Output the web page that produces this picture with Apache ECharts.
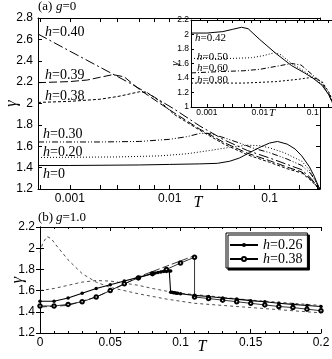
<!DOCTYPE html>
<html>
<head>
<meta charset="utf-8">
<title>gamma vs T</title>
<script src="https://cdn.jsdelivr.net/npm/echarts@6/dist/echarts.min.js"></script>
<style>
html, body { margin: 0; padding: 0; background: #fff; }
#main { width: 332px; height: 359px; }
</style>
</head>
<body>
<div id="main"></div>
<script>
// ---- panel (a): g = 0, gamma vs T (log) ----
var a_h0  = [[0.00048,1.42],[0.001,1.42],[0.005,1.425],[0.01,1.43],[0.02,1.435],[0.03,1.44],[0.04,1.46],[0.05,1.49],[0.063,1.54],[0.08,1.59],[0.1,1.63],[0.12,1.645],[0.15,1.62],[0.18,1.575],[0.21,1.51],[0.25,1.41],[0.28,1.32],[0.32,1.19]];
var a_h20 = [[0.00048,1.495],[0.003,1.50],[0.008,1.51],[0.015,1.53],[0.025,1.56],[0.04,1.59],[0.06,1.61],[0.08,1.605],[0.1,1.585],[0.14,1.54],[0.18,1.49],[0.21,1.46],[0.25,1.38],[0.28,1.30],[0.32,1.19]];
var a_h30 = [[0.00048,1.64],[0.002,1.64],[0.005,1.645],[0.01,1.665],[0.015,1.69],[0.02,1.72],[0.025,1.72],[0.035,1.68],[0.05,1.63],[0.07,1.58],[0.1,1.54],[0.15,1.48],[0.21,1.42],[0.26,1.34],[0.32,1.2]];
var a_h38 = [[0.00048,2.01],[0.001,2.02],[0.002,2.04],[0.003,2.065],[0.004,2.09],[0.005,2.11],[0.006,2.10],[0.008,2.02],[0.011,1.90],[0.02,1.75],[0.035,1.62],[0.06,1.52],[0.1,1.45],[0.15,1.39],[0.21,1.35],[0.26,1.28],[0.32,1.19]];
var a_h39 = [[0.00048,2.195],[0.001,2.205],[0.0015,2.22],[0.002,2.245],[0.0027,2.27],[0.0035,2.25],[0.005,2.13],[0.008,2.0],[0.011,1.915],[0.02,1.76],[0.035,1.635],[0.06,1.535],[0.1,1.465],[0.15,1.405],[0.21,1.36],[0.26,1.29],[0.32,1.19]];
var a_h40 = [[0.00048,2.65],[0.001,2.49],[0.002,2.34],[0.004,2.19],[0.007,2.06],[0.011,1.95],[0.02,1.79],[0.035,1.66],[0.06,1.56],[0.1,1.49],[0.15,1.43],[0.21,1.38],[0.26,1.30],[0.32,1.19]];

// ---- inset of (a): larger h ----
var i_h42 = [[0.0005,2.02],[0.001,2.02],[0.002,2.04],[0.003,2.07],[0.0045,2.10],[0.006,2.08],[0.01,1.93],[0.02,1.74],[0.04,1.57],[0.07,1.47],[0.1,1.40],[0.15,1.30],[0.2,1.17],[0.25,1.02],[0.3,0.9]];
var i_h50 = [[0.0005,1.67],[0.003,1.67],[0.007,1.68],[0.012,1.71],[0.019,1.75],[0.025,1.72],[0.04,1.60],[0.07,1.49],[0.1,1.41],[0.15,1.31],[0.2,1.17],[0.25,1.02],[0.3,0.9]];
var i_h60 = [[0.0005,1.47],[0.002,1.49],[0.005,1.50],[0.01,1.52],[0.02,1.56],[0.04,1.60],[0.06,1.58],[0.1,1.44],[0.15,1.33],[0.2,1.19],[0.25,1.04],[0.3,0.9]];
var i_h80 = [[0.0005,1.33],[0.005,1.33],[0.02,1.35],[0.05,1.38],[0.1,1.41],[0.15,1.35],[0.2,1.21],[0.25,1.05],[0.3,0.9]];

// ---- panel (b): g = 1.0, gamma vs T (linear) ----
var b_h26 = [[0,1.50],[0.01,1.50],[0.02,1.53],[0.03,1.575],[0.04,1.62],[0.05,1.655],[0.06,1.69],[0.07,1.725],[0.08,1.76],[0.082,1.765],[0.084,1.77],[0.086,1.775],[0.088,1.78],[0.09,1.78],[0.092,1.785],[0.093,1.785],[0.093,1.585],[0.094,1.585],[0.095,1.58],[0.096,1.58],[0.097,1.575],[0.098,1.575],[0.1,1.57],[0.11,1.555],[0.12,1.545],[0.13,1.53],[0.14,1.52],[0.15,1.505],[0.16,1.495],[0.17,1.48],[0.18,1.47],[0.19,1.46],[0.2,1.45]];
var b_h38 = [[0,1.455],[0.01,1.455],[0.02,1.47],[0.03,1.495],[0.04,1.54],[0.05,1.60],[0.06,1.665],[0.07,1.72],[0.08,1.76],[0.09,1.80],[0.1,1.86],[0.11,1.915],[0.11,1.54],[0.12,1.525],[0.13,1.51],[0.14,1.495],[0.15,1.48],[0.16,1.465],[0.17,1.45],[0.18,1.44],[0.19,1.425],[0.2,1.41]];
var b_d1 = [[0,1.96],[0.002,2.05],[0.005,2.11],[0.008,2.09],[0.012,2.02],[0.02,1.89],[0.03,1.76],[0.04,1.68],[0.05,1.63],[0.07,1.57],[0.09,1.52],[0.11,1.48],[0.15,1.44],[0.2,1.39]];
var b_d2 = [[0,1.60],[0.01,1.62],[0.02,1.65],[0.03,1.68],[0.04,1.695],[0.05,1.69],[0.06,1.67],[0.07,1.65],[0.08,1.62],[0.09,1.595],[0.1,1.575],[0.12,1.55],[0.15,1.51],[0.2,1.46]];
var b_d3 = [[0,1.445],[0.02,1.46],[0.04,1.54],[0.05,1.60],[0.06,1.66],[0.07,1.73],[0.08,1.78],[0.09,1.83],[0.1,1.88],[0.11,1.93]];

// tick positions
var logLabels = [0.001, 0.01, 0.1];
var logTicks = [0.0005, 0.001, 0.002, 0.003, 0.005, 0.007, 0.01, 0.02, 0.03, 0.05, 0.07, 0.1, 0.2, 0.3];

var serif = '"Liberation Serif", "DejaVu Serif", serif';
var sans = '"Liberation Sans", Arial, sans-serif';
var black = '#000';

function xLog(grid, pos, min, max, fs, margin, z) {
  return {
    type: 'log', logBase: 10, gridIndex: grid, position: pos, min: min, max: max, z: z || 0,
    axisLine: { show: true, lineStyle: { color: black, width: 1 } },
    axisTick: { show: true, inside: true, length: 4, customValues: logTicks, lineStyle: { color: black } },
    axisLabel: { show: pos === 'bottom', customValues: logLabels, margin: margin, fontSize: fs,
      fontFamily: sans, color: black, formatter: function (v) { return String(+(+v).toPrecision(2)); } },
    splitLine: { show: false }
  };
}
function yLin(grid, pos, min, max, fs, margin, z) {
  return {
    type: 'value', gridIndex: grid, position: pos, min: min, max: max, interval: 0.2, z: z || 0,
    axisLine: { show: true, lineStyle: { color: black, width: 1 } },
    axisTick: { show: true, inside: true, length: 4, lineStyle: { color: black } },
    axisLabel: { show: pos === 'left', margin: margin, fontSize: fs, fontFamily: sans, color: black },
    splitLine: { show: false }
  };
}
function gammaName(ax, gap, fs) {
  ax.name = 'γ';
  ax.nameLocation = 'middle';
  ax.nameGap = gap;
  ax.nameRotate = 90;
  ax.nameMoveOverlap = false;
  ax.nameTextStyle = { fontFamily: serif, fontStyle: 'italic', fontSize: fs, color: black };
  return ax;
}
function tName(ax, gap, fs, shift) {
  ax.name = 'T';
  ax.nameLocation = 'middle';
  ax.nameGap = gap;
  ax.nameMoveOverlap = false;
  ax.nameTextStyle = { fontFamily: serif, fontStyle: 'italic', fontSize: fs, color: black, padding: [0, 0, 0, shift] };
  return ax;
}
function curve(data, xi, yi, dash, width, z, color) {
  return {
    type: 'line', xAxisIndex: xi, yAxisIndex: yi, data: data, symbol: 'none',
    lineStyle: { color: color || black, width: width, type: dash }, z: z || 2, silent: true
  };
}
function label(x, y, prefix, rest, fs) {
  return {
    type: 'text', x: x, y: y, z: 100, silent: true,
    style: {
      text: '{i|' + prefix + '}{n|' + rest + '}', align: 'left', verticalAlign: 'middle',
      rich: {
        i: { fontFamily: serif, fontStyle: 'italic', fontSize: fs, fill: black },
        n: { fontFamily: serif, fontSize: fs, fill: black }
      }
    }
  };
}

var xA = [
  tName(xLog(0, 'bottom', 0.00048, 0.32, 12, 4), 6, 16, 38),
  xLog(0, 'top', 0.00048, 0.32, 12, 4),
  tName({
    type: 'value', gridIndex: 1, position: 'bottom', min: 0, max: 0.2, interval: 0.05,
    axisLine: { show: true, lineStyle: { color: black } },
    axisTick: { show: true, inside: true, length: 4, lineStyle: { color: black } },
    minorTick: { show: true, splitNumber: 5, length: 2, lineStyle: { color: black } },
    axisLabel: { margin: 4, fontSize: 12, fontFamily: sans, color: black },
    splitLine: { show: false }
  }, 6, 16, 43),
  {
    type: 'value', gridIndex: 1, position: 'top', min: 0, max: 0.2, interval: 0.05,
    axisLine: { show: true, lineStyle: { color: black } },
    axisTick: { show: true, inside: true, length: 4, lineStyle: { color: black } },
    minorTick: { show: true, splitNumber: 5, length: 2, lineStyle: { color: black } },
    axisLabel: { show: false }, splitLine: { show: false }
  },
  tName(xLog(2, 'bottom', 0.0005, 0.3, 8.5, 1, 12), 1, 11, 15),
  xLog(2, 'top', 0.0005, 0.3, 8.5, 1, 12)
];
xA[4].axisTick.length = 3;
xA[5].axisTick.length = 3;

var yA = [
  gammaName(yLin(0, 'left', 1.2, 2.8, 12, 5), 18, 16),
  yLin(0, 'right', 1.2, 2.8, 12, 5),
  gammaName(yLin(1, 'left', 1.2, 2.2, 12, 5), 14, 16),
  yLin(1, 'right', 1.2, 2.2, 12, 5),
  gammaName(yLin(2, 'left', 1, 2.2, 8.5, 2, 12), 10, 11),
  yLin(2, 'right', 1, 2.2, 8.5, 2, 12)
];
yA[4].axisTick.length = 3;
yA[5].axisTick.length = 3;

var chart = echarts.init(document.getElementById('main'));
chart.setOption({
  animation: false,
  backgroundColor: '#fff',
  grid: [
    { left: 38, top: 18, width: 282, height: 171, outerBoundsMode: 'none' },
    { left: 40, top: 227, width: 281, height: 106, outerBoundsMode: 'none' },
    { left: 191, top: 20, width: 147, height: 87, show: true, backgroundColor: '#fff', borderWidth: 0, z: 10, outerBoundsMode: 'none' }
  ],
  xAxis: xA,
  yAxis: yA,
  legend: {
    data: ['h=0.26', 'h=0.38'], left: 226, top: 233, orient: 'vertical',
    itemWidth: 28, itemHeight: 5, itemGap: 0, padding: [5, 5, 2, 3],
    backgroundColor: '#fff', borderColor: black, borderWidth: 1, borderRadius: 0,
    shadowColor: black, shadowBlur: 0, shadowOffsetX: 2, shadowOffsetY: 2,
    textStyle: { fontFamily: serif, fontSize: 14, lineHeight: 13, color: black, rich: { i: { fontStyle: 'italic' } } },
    formatter: function (name) { return name.replace('h', '{i|h}'); }
  },
  graphic: [
    label(38, 7, '', '(a) ', 13), label(56, 7, 'g', '=0', 13),
    label(38, 218, '', '(b) ', 13), label(56, 218, 'g', '=1.0', 13),
    label(45, 32, 'h', '=0.40', 14),
    label(45, 75, 'h', '=0.39', 14),
    label(45, 96, 'h', '=0.38', 14),
    label(43, 134, 'h', '=0.30', 14),
    label(43, 152, 'h', '=0.20', 14),
    label(43, 174, 'h', '=0', 14),
    label(195, 38, 'h', '=0.42', 11),
    label(197, 57, 'h', '=0.50', 11),
    label(197, 68, 'h', '=0.60', 11),
    label(197, 80, 'h', '=0.80', 11)
  ],
  series: [
    curve(a_h0, 0, 0, 'solid', 1),
    curve(a_h20, 0, 0, [1, 2], 1),
    curve(a_h30, 0, 0, [6, 2, 1, 2, 1, 2], 1),
    curve(a_h38, 0, 0, [3, 2], 1),
    curve(a_h39, 0, 0, [8, 3], 1),
    curve(a_h40, 0, 0, [10, 3, 2, 3], 1),

    curve(i_h42, 4, 4, 'solid', 1, 12),
    curve(i_h50, 4, 4, [1, 2], 1, 12),
    curve(i_h60, 4, 4, [5, 2, 1, 2], 1, 12),
    curve(i_h80, 4, 4, [2, 2], 1, 12),

    curve(b_d1, 2, 2, [3, 3], 0.8, 2, '#222'),
    curve(b_d2, 2, 2, [3, 3], 0.8, 2, '#222'),
    curve(b_d3, 2, 2, [7, 3], 0.9, 2, '#222'),
    {
      name: 'h=0.38', type: 'line', xAxisIndex: 2, yAxisIndex: 2, data: b_h38,
      symbol: 'emptyCircle', symbolSize: 3.5, z: 4,
      lineStyle: { color: black, width: 0.8 }, itemStyle: { color: black, borderWidth: 0.7 }
    },
    {
      name: 'h=0.26', type: 'line', xAxisIndex: 2, yAxisIndex: 2, data: b_h26,
      symbol: 'circle', symbolSize: 3.5, z: 5,
      lineStyle: { color: black, width: 1.1 }, itemStyle: { color: black }
    }
  ]
});
</script>
</body>
</html>
